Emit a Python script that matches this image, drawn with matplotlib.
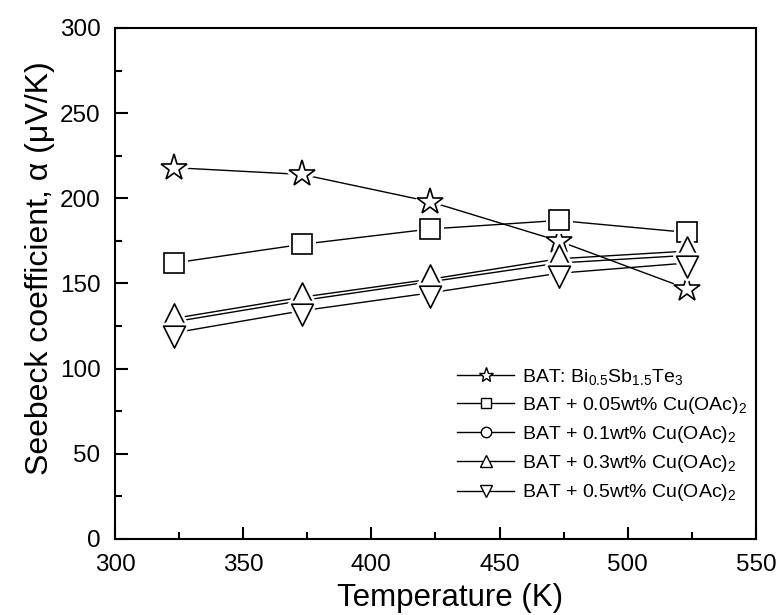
import numpy as np
import matplotlib
matplotlib.use("Agg")
import matplotlib.pyplot as plt
from matplotlib.lines import Line2D
from matplotlib.path import Path

# Data
temp_k = [323, 373, 423, 473, 523]
alpha_bat = [218, 214, 198, 175, 147]
alpha_005 = [162, 173, 182, 187, 180]
alpha_01 = [127.5, 140, 151, 162, 166.5]
alpha_03 = [129.5, 142, 152.5, 164.5, 169]
alpha_05 = [121, 134, 144.5, 156, 162]

labels = [
    r"BAT: Bi$_{0.5}$Sb$_{1.5}$Te$_{3}$",
    r"BAT + 0.05wt% Cu(OAc)$_{2}$",
    r"BAT + 0.1wt% Cu(OAc)$_{2}$",
    r"BAT + 0.3wt% Cu(OAc)$_{2}$",
    r"BAT + 0.5wt% Cu(OAc)$_{2}$",
]
series = [alpha_bat, alpha_005, alpha_01, alpha_03, alpha_05]

# triangles centred on their centroid, like Origin draws them
tri_up = Path([(0, 1), (-0.75, -0.5), (0.75, -0.5), (0, 1)], closed=True)
tri_dn = Path([(0, -1), (-0.75, 0.5), (0.75, 0.5), (0, -1)], closed=True)

markers = ["*", "s", "o", tri_up, tri_dn]
msizes = [20, 15, 8, 21, 21]
leg_markers = ["*", "s", "o", "^", "v"]
leg_sizes = [11, 7.5, 7.5, 8, 8]

# Format
plt.rcParams["font.family"] = ["Liberation Sans", "DejaVu Sans"]
plt.rcParams["font.size"] = 17.5
plt.rcParams["mathtext.fontset"] = "custom"
plt.rcParams["mathtext.rm"] = "Liberation Sans"
plt.rcParams["mathtext.it"] = "Liberation Sans:italic"
plt.rc("axes", linewidth=1.5)
plt.rcParams["xtick.direction"] = "in"
plt.rcParams["ytick.direction"] = "in"
plt.rc("xtick.major", size=9, width=1.5, pad=11)
plt.rc("xtick.minor", size=5, width=1.5)
plt.rc("ytick.major", size=9, width=1.5, pad=10.5)
plt.rc("ytick.minor", size=5, width=1.5)

fig = plt.figure(figsize=(7.8, 6.15), dpi=100)
ax = fig.add_axes([0.1474, 0.1236, 0.8218, 0.8309])

for i, (y, m, ms) in enumerate(zip(series, markers, msizes)):
    ax.plot(temp_k, y, "-", color="black", lw=1.0, zorder=1)
    # white halo gives the gap between line and symbol
    ax.plot(temp_k, y, marker=m, ms=ms, mfc="white", mec="white", mew=5,
            ls="none", zorder=2 + i)
    ax.plot(temp_k, y, marker=m, ms=ms, mfc="white", mec="black", mew=1.2,
            ls="none", zorder=2.5 + i)

ax.set_xlim(300, 550)
ax.set_ylim(0, 300)
ax.set_xticks(np.arange(300, 551, 50))
ax.set_yticks(np.arange(0, 301, 50))
ax.set_xticks(np.arange(300, 551, 25), minor=True)
ax.set_yticks(np.arange(0, 301, 25), minor=True)
ax.tick_params(top=False, right=False, which="both")

ax.set_xlabel("Temperature (K)", fontsize=22.5, labelpad=5)
ax.set_ylabel("Seebeck coefficient, \u03b1 (\u03bcV/K)", fontsize=23, labelpad=3)
ax.xaxis.label.set_x(0.522)
ax.yaxis.label.set_y(0.531)

handles = [
    Line2D([], [], color="black", lw=1.0, marker=m, ms=s, mfc="white",
           mec="black", mew=1.0)
    for m, s in zip(leg_markers, leg_sizes)
]
ax.legend(handles, labels, loc="upper left", bbox_to_anchor=(0.519, 0.356),
          frameon=False, handlelength=2.9, handletextpad=0.4,
          labelspacing=0.42, borderpad=0, fontsize=14)

plt.savefig("out.png", dpi=100)
